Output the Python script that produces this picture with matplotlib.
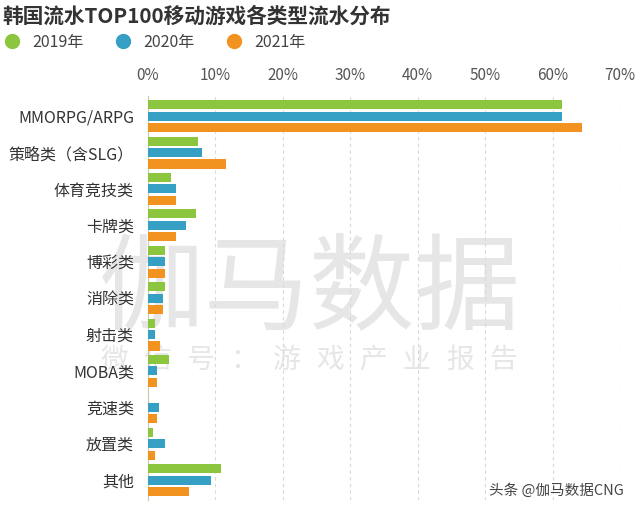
import matplotlib
matplotlib.use('Agg')
import matplotlib.pyplot as plt
from matplotlib.lines import Line2D

plt.rcParams['font.family'] = ['Noto Sans CJK SC', 'DejaVu Sans']

categories = ['MMORPG/ARPG', '策略类（含SLG）', '体育竞技类', '卡牌类', '博彩类', '消除类',
              '射击类', 'MOBA类', '竞速类', '放置类', '其他']
v2019 = [61.4, 7.4, 3.5, 7.1, 2.5, 2.5, 1.0, 3.1, 0.0, 0.8, 10.9]
v2020 = [61.4, 8.1, 4.1, 5.6, 2.6, 2.2, 1.1, 1.4, 1.7, 2.5, 9.4]
v2021 = [64.4, 11.6, 4.1, 4.1, 2.5, 2.2, 1.8, 1.4, 1.3, 1.1, 6.1]
years = ['2019年', '2020年', '2021年']
colors = ['#8cc63e', '#35a0c4', '#f2921f']

fig = plt.figure(figsize=(6.4, 5.14), dpi=100)

# watermark behind the chart
fig.text(0.485, 0.434, '伽马数据', fontsize=76, color='#e6e6e6', ha='center', va='center',
         zorder=-1)
sub = '微信号：游戏产业报告'
for k, ch in enumerate(sub):
    fig.text((114 + k * 43.2) / 640, 0.300, ch, fontsize=20, color='#e6e6e6',
             ha='center', va='center', zorder=-1)

ax = fig.add_axes([0.231, 0.027, 0.738, 0.786])
ax.patch.set_alpha(0)

y = list(range(len(categories)))
h = 0.25
off = 0.315
for i, vals in enumerate([v2019, v2020, v2021]):
    ax.barh([k + (i - 1) * off for k in y], vals, height=h, color=colors[i], zorder=3)

ax.set_xlim(0, 70)
ax.set_ylim(10.55, -0.55)
ax.set_xticks(range(0, 71, 10))
ax.set_xticklabels([f'{t}%' for t in range(0, 71, 10)])
ax.xaxis.tick_top()
ax.tick_params(axis='x', length=0, pad=8.5, labelsize=11, labelcolor='#555555')
ax.set_yticks(y)
ax.set_yticklabels(categories)
ax.tick_params(axis='y', length=0, pad=10, labelsize=11.5, labelcolor='#333333')
ax.grid(axis='x', color='#d8d8d8', linestyle=(0, (3, 3)), linewidth=0.8, zorder=0)
for s in ['top', 'right', 'bottom']:
    ax.spines[s].set_visible(False)
ax.spines['left'].set_color('#c8c8b0')

fig.text(0.004, 0.968, '韩国流水TOP100移动游戏各类型流水分布', fontsize=14.9,
         fontweight='bold', color='#333333', va='center')

handles = [Line2D([], [], marker='o', linestyle='none', markersize=10, color=c) for c in colors]
fig.legend(handles, years, loc='center left', bbox_to_anchor=(4 / 640, 1 - 42 / 514), ncol=3,
           frameon=False, fontsize=11.5, handlelength=1.0, handletextpad=0.75,
           columnspacing=2.0, borderpad=0, borderaxespad=0, labelcolor='#444444')

fig.text(0.975, 0.045, '头条 @伽马数据CNG', fontsize=10.5, color='#444444', ha='right',
         va='center')

fig.savefig('out.png', dpi=100)
